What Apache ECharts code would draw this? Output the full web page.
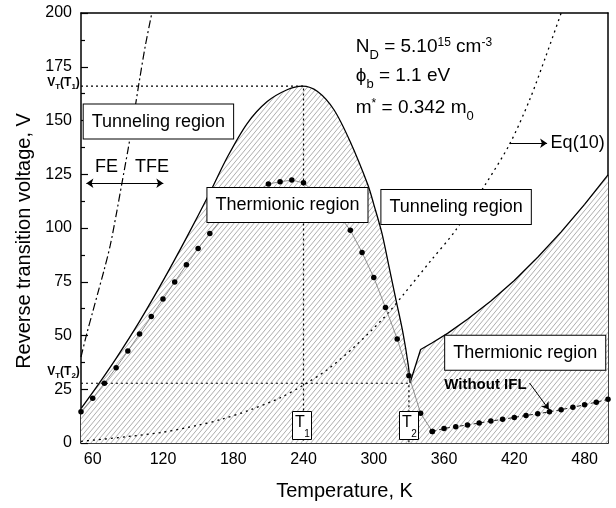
<!DOCTYPE html>
<html>
<head>
<meta charset="utf-8">
<script src="https://cdn.jsdelivr.net/npm/echarts@6/dist/echarts.min.js"></script>
<style>
  html, body { margin: 0; padding: 0; background: #fff; }
  #chart { width: 616px; height: 508px; }
</style>
</head>
<body>
<div id="chart"></div>
<script>
const FONT = '"Liberation Sans", Arial, sans-serif';

// axis ticks
const xLabelTicks = [60, 120, 180, 240, 300, 360, 420, 480];
const xAllTicks = [60, 90, 120, 150, 180, 210, 240, 270, 300, 330, 360, 390, 420, 450, 480];

// boundary curve (thermionic region hatched below it)
const arcT = [50, 65, 80, 100, 120, 140, 160, 175, 192, 209, 226, 239, 252, 266, 280, 295, 300, 307, 313, 319, 325, 329.5, 331];
const arcV = [16, 27.4, 39.4, 56.6, 75.4, 95.4, 116.4, 133, 148.7, 158.8, 164.3, 166, 163.5, 155, 140, 120, 111, 97.5, 82, 66.5, 51, 36, 28];
const branchT = [331, 340, 350, 363, 380, 400, 420, 440, 460, 480, 500];
const branchV = [28, 43.5, 46.6, 51, 57.6, 66, 75.6, 86.4, 98.2, 111, 124.7];

// FE / TFE limit (dash-dot)
const feT = [50, 55, 60, 65, 70, 75, 80, 85, 90, 95, 100, 105, 110.5];
const feV = [40, 51, 61, 71, 81, 92, 106, 121, 136, 152, 169, 185, 200];

// Eq(10) (dotted)
const eqT = [50, 60, 90, 120, 150, 170, 195, 220, 240, 260, 283, 309, 326, 349, 370, 395, 416, 433, 447, 460];
const eqV = [0.8, 1.3, 3, 5, 8.3, 11, 15.5, 21, 27, 34, 44.5, 58.5, 69.5, 85, 99, 120, 139, 159.5, 180, 200];

// with IFL points
const iflT = [50, 60, 70, 80, 90, 100, 110, 120, 130, 140, 150, 160, 170, 180, 190, 200, 210, 220, 230, 240, 250, 260, 270, 280, 290, 300, 310, 320, 330, 340, 350];
const iflV = [14.5, 20.8, 27.8, 35, 42.8, 50.7, 58.8, 67, 74.9, 82.9, 90.5, 97.5, 104, 109, 113.5, 117, 120.5, 121.5, 122.3, 121, 116.5, 112, 106, 99, 88.6, 77, 63, 48.4, 31.3, 13.8, 5.3];

// without IFL points
const noIflT = [350, 360, 370, 380, 390, 400, 410, 420, 430, 440, 450, 460, 470, 480, 490, 500];
const noIflV = [5.3, 6.8, 7.6, 8.4, 9.3, 10.2, 11, 11.9, 12.8, 13.6, 14.5, 15.5, 16.6, 17.8, 19, 20.3];

// guide lines V_T(T1), V_T(T2)
const guide1T = [50, 240, 240];
const guide1V = [166, 166, 0];
const guide2T = [50, 330, 330];
const guide2V = [27.8, 27.8, 0];

// boxed region labels
const boxText = ['Tunneling region', 'Thermionic region', 'Tunneling region', 'Thermionic region'];
const boxT = [116.1, 226.3, 370.3, 429.3];
const boxV = [149.5, 110.7, 109.8, 42];

const zip = (a, b) => a.map((v, i) => [v, b[i]]);

function hatch() {
  const w = 5, h = 6;
  const c = document.createElement('canvas');
  c.width = w; c.height = h;
  const g = c.getContext('2d');
  g.fillStyle = '#fff';
  g.fillRect(0, 0, w, h);
  g.strokeStyle = '#8a8a8a';
  g.lineWidth = 0.7;
  g.beginPath();
  for (let k = -1; k <= 1; k++) {
    g.moveTo(k * w, h);
    g.lineTo(k * w + w, 0);
  }
  g.stroke();
  return c;
}
const hatchFill = { image: hatch(), repeat: 'repeat' };

const rich = {
  m: { fontSize: 19, fill: '#000', fontFamily: FONT },
  sub: { fontSize: 13, fill: '#000', fontFamily: FONT, padding: [18, 0, 0, 0] },
  sup: { fontSize: 12, fill: '#000', fontFamily: FONT, padding: [0, 0, 8, 0] },
  bm: { fontSize: 12, fontWeight: 'bold', fill: '#000', fontFamily: FONT },
  bs: { fontSize: 8, fontWeight: 'bold', fill: '#000', fontFamily: FONT, padding: [8, 0, 0, 0] }
};

// text annotations, placed at data coordinates
const textItems = [];
boxText.forEach((t, i) => {
  textItems.push({ t: boxT[i], v: boxV[i], style: { text: t, fontSize: 18, align: 'center', verticalAlign: 'middle',
    backgroundColor: '#fff', borderColor: '#000', borderWidth: 1, padding: [8, 8, 8, 8] } });
});
textItems.push({ t: 238.9, v: 7.9, tbox: '1' });
textItems.push({ t: 330.3, v: 7.9, tbox: '2' });
textItems.push({ t: 71.7, v: 128.5, style: { text: 'FE', fontSize: 18, align: 'center', verticalAlign: 'middle' } });
textItems.push({ t: 110.6, v: 128.5, style: { text: 'TFE', fontSize: 18, align: 'center', verticalAlign: 'middle' } });
textItems.push({ t: 451, v: 139.4, style: { text: 'Eq(10)', fontSize: 18, align: 'left', verticalAlign: 'middle' } });
textItems.push({ t: 395.3, v: 27, style: { text: 'Without IFL', fontSize: 15, fontWeight: 'bold', align: 'center', verticalAlign: 'middle' } });
textItems.push({ t: 284.6, v: 184.5, style: { text: '{m|N}{sub|D}{m| = 5.10}{sup|15}{m| cm}{sup|-3}', rich: rich, align: 'left', verticalAlign: 'middle' } });
textItems.push({ t: 284.6, v: 171, style: { text: '{m|ϕ}{sub|b}{m| = 1.1 eV}', rich: rich, align: 'left', verticalAlign: 'middle' } });
textItems.push({ t: 284.6, v: 156, style: { text: '{m|m}{sup|*}{m| = 0.342 m}{sub|0}', rich: rich, align: 'left', verticalAlign: 'middle' } });
textItems.push({ t: 49, v: 167.4, style: { text: '{bm|V}{bs|T}{bm|(T}{bs|1}{bm|)}', rich: rich, align: 'right', verticalAlign: 'middle' } });
textItems.push({ t: 49, v: 33, style: { text: '{bm|V}{bs|T}{bm|(T}{bs|2}{bm|)}', rich: rich, align: 'right', verticalAlign: 'middle' } });

function renderText(params, api) {
  const item = textItems[params.dataIndex];
  const p = api.coord([api.value(0), api.value(1)]);
  if (item.tbox) {
    return {
      type: 'group', x: Math.round(p[0]), y: Math.round(p[1]),
      children: [
        { type: 'rect', shape: { x: -9.5, y: -14.5, width: 19, height: 28 }, style: { fill: '#fff', stroke: '#000', lineWidth: 1 } },
        { type: 'text', x: -2, y: -3, style: { text: 'T', fontSize: 16, fontFamily: FONT, fill: '#000', align: 'center', verticalAlign: 'middle' } },
        { type: 'text', x: 5, y: 8, style: { text: item.tbox, fontSize: 10, fontFamily: FONT, fill: '#000', align: 'center', verticalAlign: 'middle' } }
      ]
    };
  }
  return { type: 'text', x: p[0], y: p[1], style: Object.assign({ fontFamily: FONT, fill: '#000' }, item.style) };
}

const chart = echarts.init(document.getElementById('chart'));
chart.setOption({
  animation: false,
  backgroundColor: '#fff',
  textStyle: { fontFamily: FONT, color: '#000' },
  grid: { left: 81, right: 8, top: 13, bottom: 65, containLabel: false },
  xAxis: [
    {
      type: 'value', min: 50, max: 500, position: 'bottom',
      name: 'Temperature, K', nameLocation: 'middle', nameGap: 38,
      nameTextStyle: { fontSize: 20, color: '#000' },
      axisLine: { onZero: false, lineStyle: { color: '#000', width: 1.5 } },
      axisTick: { inside: true, length: 5, customValues: xAllTicks, lineStyle: { color: '#000', width: 1.2 } },
      axisLabel: { customValues: xLabelTicks, fontSize: 16, color: '#000', margin: 9 },
      splitLine: { show: false }
    },
    {
      type: 'value', min: 50, max: 500, position: 'bottom',
      axisLine: { show: false },
      axisTick: { inside: true, length: 8, customValues: xLabelTicks, lineStyle: { color: '#000', width: 1.2 } },
      axisLabel: { show: false },
      splitLine: { show: false }
    },
    {
      type: 'value', min: 50, max: 500, position: 'top',
      axisLine: { onZero: false, lineStyle: { color: '#000', width: 1.5 } },
      axisTick: { show: false }, axisLabel: { show: false }, splitLine: { show: false }
    }
  ],
  yAxis: [
    {
      type: 'value', min: 0, max: 200, interval: 25, position: 'left',
      name: 'Reverse transition voltage, V', nameLocation: 'middle', nameGap: 47,
      nameTextStyle: { fontSize: 20, color: '#000', padding: [0, 26, 0, 0] },
      axisLine: { show: true, onZero: false, lineStyle: { color: '#000', width: 1.5 } },
      axisTick: { inside: true, length: 7, lineStyle: { color: '#000', width: 1.2 } },
      minorTick: { show: true, splitNumber: 2, length: 4, lineStyle: { color: '#000', width: 1.2 } },
      axisLabel: { fontSize: 16, color: '#000', margin: 9 },
      splitLine: { show: false }
    },
    {
      type: 'value', min: 0, max: 200, position: 'right',
      axisLine: { show: true, onZero: false, lineStyle: { color: '#000', width: 1.5 } },
      axisTick: { show: false }, axisLabel: { show: false }, splitLine: { show: false }
    }
  ],
  series: [
    {
      name: 'boundary arc', type: 'line', data: zip(arcT, arcV), symbol: 'none', smooth: 0.3, z: 2,
      lineStyle: { color: '#000', width: 1.3 },
      areaStyle: { color: hatchFill, opacity: 1 }
    },
    {
      name: 'boundary branch', type: 'line', data: zip(branchT, branchV), symbol: 'none', z: 2,
      lineStyle: { color: '#000', width: 1.3 },
      areaStyle: { color: hatchFill, opacity: 1 }
    },
    {
      name: 'FE-TFE', type: 'line', data: zip(feT, feV), symbol: 'none', smooth: 0.3, z: 3,
      lineStyle: { color: '#000', width: 1.2, type: [8, 3, 2, 3] }
    },
    {
      name: 'Eq10', type: 'line', data: zip(eqT, eqV), symbol: 'none', smooth: 0.3, z: 3,
      lineStyle: { color: '#000', width: 1.3, type: [2, 4] },
      markLine: {
        silent: true, symbolSize: 7, label: { show: false },
        lineStyle: { color: '#000', width: 1, type: 'solid' },
        data: [
          [{ coord: [416, 139.4], symbol: 'none' }, { coord: [448, 139.4], symbol: 'arrow' }],
          [{ coord: [54.6, 120.8], symbol: 'arrow' }, { coord: [120.3, 120.8], symbol: 'arrow' }],
          [{ coord: [433, 27.9], symbol: 'none' }, { coord: [449.5, 15.6], symbol: 'arrow' }]
        ]
      }
    },
    {
      name: 'guide1', type: 'line', data: zip(guide1T, guide1V), symbol: 'none', z: 3,
      lineStyle: { color: '#000', width: 1.2, type: [2, 3] }
    },
    {
      name: 'guide2', type: 'line', data: zip(guide2T, guide2V), symbol: 'none', z: 3,
      lineStyle: { color: '#000', width: 1.2, type: [2, 3] }
    },
    {
      name: 'with IFL', type: 'line', data: zip(iflT, iflV), symbol: 'circle', symbolSize: 5.5, z: 4,
      itemStyle: { color: '#000' },
      lineStyle: { color: '#777', width: 0.8 }
    },
    {
      name: 'without IFL', type: 'line', data: zip(noIflT, noIflV), symbol: 'circle', symbolSize: 5.5, z: 4,
      itemStyle: { color: '#000' },
      lineStyle: { color: '#222', width: 1, type: [4, 3] }
    },
    {
      name: 'texts', type: 'custom', z: 10, silent: true, clip: false,
      data: textItems.map(d => [d.t, d.v]),
      encode: { x: 0, y: 1 },
      renderItem: renderText
    }
  ]
});
</script>
</body>
</html>
